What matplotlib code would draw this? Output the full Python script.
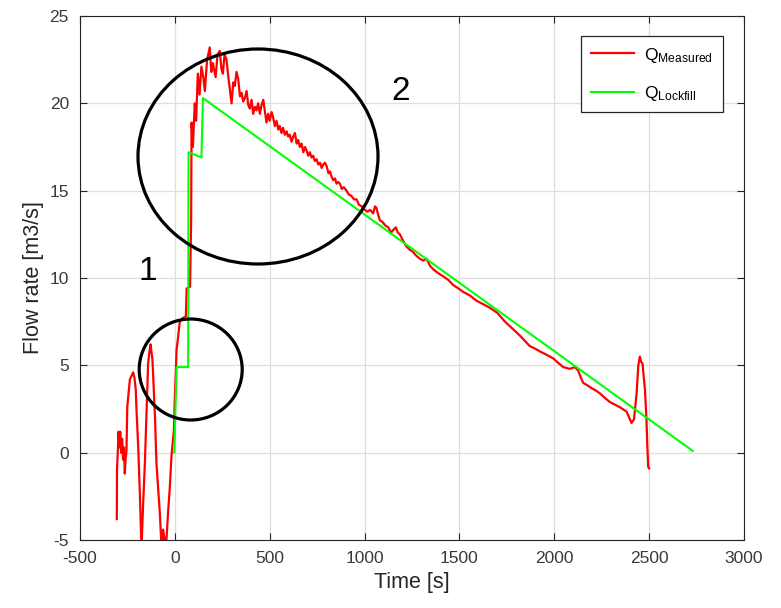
import matplotlib
matplotlib.use('Agg')
import matplotlib.pyplot as plt
from matplotlib.patches import Ellipse

# measured flow rate
t_meas = [-306, -305, -300, -297, -292, -288, -283, -278, -273, -268, -264, -259, -255,
          -251, -244, -237, -228, -220, -213, -206, -202, -193, -184, -176, -167, -158,
          -149, -141, -134, -128, -118, -105, -97, -79, -70, -62, -55, -47, -35, -26,
          -18, -5, 0, 5, 9, 17, 26, 40, 58, 62, 80, 86, 88, 95, 105, 112, 121, 130, 140,
          150, 158, 170, 184, 192, 200, 215, 225, 237, 245, 253, 262, 272, 282, 290,
          299, 308, 316, 325, 334, 343, 352, 360, 369, 378, 387, 395, 404, 413, 422,
          430, 439, 448, 457, 466, 475, 483, 492, 500, 510, 518, 527, 536, 545, 553,
          562, 570, 580, 589, 597, 606, 615, 624, 633, 642, 650, 659, 668, 677, 686,
          694, 703, 712, 720, 729, 738, 747, 756, 765, 774, 782, 791, 800, 810, 818,
          826, 835, 844, 852, 861, 870, 880, 890, 905, 915, 930, 945, 958, 970, 985,
          1002, 1015, 1030, 1045, 1055, 1063, 1072, 1081, 1095, 1110, 1125, 1140, 1151,
          1165, 1175, 1186, 1200, 1210, 1221, 1240, 1255, 1270, 1292, 1310, 1327, 1345,
          1362, 1385, 1400, 1414, 1440, 1467, 1495, 1520, 1555, 1590, 1625, 1660, 1700,
          1740, 1780, 1819, 1845, 1871, 1900, 1924, 1960, 1994, 2020, 2047, 2082, 2109,
          2126, 2140, 2152, 2175, 2196, 2220, 2240, 2265, 2293, 2320, 2346, 2381, 2395,
          2407, 2420, 2434, 2443, 2451, 2458, 2465, 2472, 2478, 2486, 2490, 2495, 2500]
q_meas = [-3.8, -1.0, 0.2, 1.2, 0.3, 1.2, 0.0, 0.8, -0.4, 0.3, -1.2, -0.3, 0.1,
          2.6, 3.4, 4.2, 4.4, 4.6, 4.3, 3.6, 2.4, 0.3, -2.5, -5.5, -2.9, -0.6,
          2.4, 5.1, 5.8, 6.2, 5.3, 2.1, -0.6, -3.5, -5.5, -4.4, -4.9, -5.5, -3.3, -1.9,
          -0.2, 1.3, 3.2, 4.6, 5.9, 6.6, 7.5, 7.7, 7.8, 9.4, 9.5, 13.4, 18.9, 17.5, 20.0,
          19.0, 21.7, 20.5, 22.1, 21.5, 20.7, 22.5, 23.2, 21.8, 22.3, 21.5, 22.8, 23.0,
          22.0, 21.7, 22.8, 22.5, 21.5, 20.8, 20.0, 21.2, 21.0, 21.8, 21.4, 20.4, 20.6,
          20.1, 20.3, 20.7, 19.9, 19.7, 20.2, 19.4, 19.8, 19.6, 20.0, 19.4, 19.9, 20.2,
          19.5, 18.9, 19.4, 19.0, 19.5, 19.2, 18.7, 19.0, 18.5, 18.7, 18.3, 18.6, 18.2,
          18.4, 18.1, 18.2, 17.8, 18.1, 18.3, 17.7, 17.9, 17.5, 17.7, 17.2, 17.5, 17.3,
          17.0, 17.2, 16.9, 17.0, 16.7, 16.8, 16.5, 16.6, 16.3, 16.5, 16.6, 16.4, 16.0,
          16.1, 15.8, 15.6, 15.7, 15.4, 15.5, 15.4, 15.1, 15.2, 15.0, 14.8, 14.7, 14.5,
          14.5, 14.2, 14.1, 13.9, 13.8, 13.9, 13.7, 14.1, 14.0, 13.6, 13.3, 13.2, 13.0,
          12.9, 12.6, 12.75, 12.9, 12.6, 12.5, 12.2, 12.0, 11.8, 11.6, 11.5, 11.3, 11.1,
          11.0, 11.1, 10.7, 10.5, 10.3, 10.2, 10.1, 9.9, 9.6, 9.4, 9.2, 9.0, 8.7, 8.5,
          8.3, 8.0, 7.5, 7.1, 6.7, 6.4, 6.1, 5.95, 5.8, 5.6, 5.4, 5.15, 4.9, 4.8, 4.9,
          4.7, 4.3, 4.0, 3.85, 3.7, 3.55, 3.4, 3.15, 2.9, 2.75, 2.6, 2.35, 2.0, 1.7, 1.9,
          3.4, 5.0, 5.5, 5.2, 5.1, 4.3, 3.6, 1.9, 0.5, -0.8, -0.9]

# lockfill model
t_lock = [-3, 9, 70, 72, 140, 148, 2730]
q_lock = [0.0, 4.9, 4.9, 17.2, 16.9, 20.3, 0.1]

xticks = [-500, 0, 500, 1000, 1500, 2000, 2500, 3000]
yticks = [-5, 0, 5, 10, 15, 20, 25]

plt.rcParams['font.family'] = ['Liberation Sans', 'DejaVu Sans']
plt.rcParams['mathtext.default'] = 'regular'
plt.rcParams['axes.unicode_minus'] = False

W, H = 781, 608
fig = plt.figure(figsize=(W/100, H/100), dpi=100)
ax = fig.add_axes([80/W, 1-540/H, (744-80)/W, (540-16)/H])

ax.plot(t_meas, q_meas, color='#ff0000', lw=1.6, label=r'Q$_{Measured}$')
ax.plot(t_lock, q_lock, color='#00ff00', lw=1.5, label=r'Q$_{Lockfill}$')

ax.set_xlim(-500, 3000)
ax.set_ylim(-5, 25)
ax.set_xticks(xticks)
ax.set_yticks(yticks)
ax.grid(True, color='#dedede', lw=0.9)
ax.set_axisbelow(True)
ax.tick_params(direction='in', length=5, top=True, right=True,
               labelsize=12.5, labelcolor='#3a3a3a', color='#262626', pad=8)
for s in ax.spines.values():
    s.set_color('#262626')
ax.set_xlabel('Time [s]', fontsize=15.5, color='#262626')
ax.set_ylabel('Flow rate [m3/s]', fontsize=15.5, color='#262626')

leg = ax.legend(loc='upper right', bbox_to_anchor=((723-80)/664, (540-36)/524),
                borderaxespad=0, fontsize=12.5, fancybox=False, framealpha=1,
                edgecolor='#262626', handlelength=2.5, labelspacing=1.1,
                borderpad=0.55, handletextpad=0.6)
leg.get_frame().set_linewidth(0.9)

# annotation circles and numbers (figure pixel positions)
def circ(cx, cy, w, h):
    e = Ellipse((cx/W, 1-cy/H), w/W, h/H, transform=fig.transFigure,
                fill=False, edgecolor='black', lw=2.3)
    fig.add_artist(e)

circ(190.7, 369.5, 103, 101)
circ(258, 156.5, 240, 215)
fig.text(148/W, 1-271/H, '1', ha='center', va='center', fontsize=24)
fig.text(401/W, 1-91/H, '2', ha='center', va='center', fontsize=24)

fig.savefig('out.png', dpi=100)
